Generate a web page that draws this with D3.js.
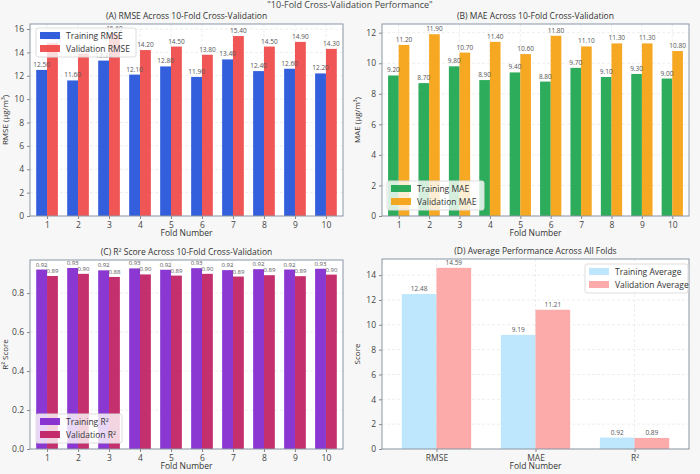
<!DOCTYPE html><html><head><meta charset="utf-8"><script src="https://cdn.jsdelivr.net/npm/d3@7"></script>
<style>body{margin:0;background:#f7f7f7}text{font-family:"Open Sans",sans-serif}</style></head><body><svg id="c" width="700" height="474"></svg>
<script>
const folds=[1,2,3,4,5,6,7,8,9,10];
const trainRMSE=[12.5,11.6,13.3,12.1,12.8,11.9,13.4,12.4,12.6,12.2];
const valRMSE=[14.8,13.9,15.6,14.2,14.5,13.8,15.4,14.5,14.9,14.3];
const trainMAE=[9.2,8.7,9.8,8.9,9.4,8.8,9.7,9.1,9.3,9.0];
const valMAE=[11.2,11.9,10.7,11.4,10.6,11.8,11.1,11.3,11.3,10.8];
const trainR2=[0.921,0.929,0.917,0.927,0.920,0.928,0.918,0.923,0.921,0.925];
const valR2=[0.888,0.899,0.883,0.896,0.890,0.899,0.885,0.892,0.887,0.895];
const avgCats=["RMSE","MAE","R²"];
const trainAvg=[12.48,9.19,0.92];
const valAvg=[14.59,11.21,0.89];
const svg=d3.select("#c");
svg.append("text").attr("x",350).attr("y",8).attr("text-anchor","middle").attr("font-size",9).attr("fill","#444").text('"10-Fold Cross-Validation Performance"');
function panel(o){
  const g=svg.append("g");
  g.append("rect").attr("x",o.x0).attr("y",o.y0).attr("width",o.x1-o.x0).attr("height",o.y1-o.y0).attr("fill","#fff");
  const n=o.cats.length;
  const x=d3.scaleLinear().domain([-0.55,n-0.45]).range([o.x0,o.x1]);
  const y=d3.scaleLinear().domain([0,o.ymax]).range([o.y1,o.y0]);
  const ticks=o.ticks;
  ticks.forEach(t=>{g.append("line").attr("x1",o.x0).attr("x2",o.x1).attr("y1",y(t)).attr("y2",y(t)).attr("stroke","#eee").attr("stroke-dasharray","3,2");});
  o.cats.forEach((c,i)=>{g.append("line").attr("x1",x(i)).attr("x2",x(i)).attr("y1",o.y0).attr("y2",o.y1).attr("stroke","#eee").attr("stroke-dasharray","3,2");});
  const bw=o.bw||0.35;
  const sets=[[o.a,o.ca,-1],[o.b,o.cb,0]];
  sets.forEach(([vals,col,off])=>{
    vals.forEach((v,i)=>{
      g.append("rect").attr("x",x(i+off*bw)).attr("y",y(v)).attr("width",x(bw)-x(0)).attr("height",y(0)-y(v)).attr("fill",col).attr("opacity",o.op||0.9);
    });
  });
  sets.forEach(([vals,col,off])=>{
    vals.forEach((v,i)=>{
      g.append("text").attr("x",x(i+off*bw+bw/2)).attr("y",y(v)-3).attr("text-anchor","middle").attr("font-size",o.lfs||6.5).attr("fill","#555").text(v.toFixed(2));
    });
  });
  const ya=g.append("g").attr("transform",`translate(${o.x0},0)`).call(d3.axisLeft(y).tickValues(ticks).tickFormat(o.fmt).tickSize(3));
  const xa=g.append("g").attr("transform",`translate(0,${o.y1})`).call(d3.axisBottom(x).tickValues(o.cats.map((c,i)=>i)).tickFormat(i=>o.cats[i]).tickSize(3));
  [ya,xa].forEach(a=>{a.select(".domain").remove();a.selectAll("line").attr("stroke","#888");a.selectAll("text").attr("font-size",8.5).attr("fill","#444").attr("font-family","Open Sans");});
  g.append("rect").attr("x",o.x0).attr("y",o.y0).attr("width",o.x1-o.x0).attr("height",o.y1-o.y0).attr("fill","none").attr("stroke","#8a96a3");
  g.append("text").attr("x",(o.x0+o.x1)/2).attr("y",o.y0-5).attr("text-anchor","middle").attr("font-size",8.5).attr("fill","#333").text(o.title);
  g.append("text").attr("x",(o.x0+o.x1)/2).attr("y",o.y1+20).attr("text-anchor","middle").attr("font-size",8.5).attr("fill","#333").text("Fold Number");
  g.append("text").attr("transform",`translate(${o.x0-22},${(o.y0+o.y1)/2}) rotate(-90)`).attr("text-anchor","middle").attr("font-size",8).attr("fill","#333").text(o.ylab);
  const L=o.leg;
  const lg=g.append("g");
  lg.append("rect").attr("x",L.x).attr("y",L.y).attr("width",L.w).attr("height",29).attr("rx",2).attr("fill","#fff").attr("fill-opacity",0.8).attr("stroke","#ddd");
  [[o.la,o.ca],[o.lb,o.cb]].forEach(([t,c],k)=>{
    lg.append("rect").attr("x",L.x+4).attr("y",L.y+4+k*13).attr("width",20).attr("height",7).attr("fill",c).attr("opacity",o.op||0.9);
    lg.append("text").attr("x",L.x+30).attr("y",L.y+11+k*13).attr("font-size",8.5).attr("fill","#333").text(t);
  });
}
panel({x0:30,x1:343,y0:24,y1:216,cats:folds,a:trainRMSE,b:valRMSE,ca:"#1d4ed8",cb:"#ef4444",ymax:16.43,ticks:d3.range(0,17,2),fmt:d3.format("d"),title:"(A) RMSE Across 10-Fold Cross-Validation",ylab:"RMSE (μg/m³)",la:"Training RMSE",lb:"Validation RMSE",leg:{x:36,y:28,w:100}});
panel({x0:382,x1:689,y0:24,y1:216,cats:folds,a:trainMAE,b:valMAE,ca:"#16a34a",cb:"#f59e0b",ymax:12.57,ticks:d3.range(0,13,2),fmt:d3.format("d"),title:"(B) MAE Across 10-Fold Cross-Validation",ylab:"MAE (μg/m³)",la:"Training MAE",lb:"Validation MAE",leg:{x:387,y:181,w:97}});
panel({x0:30,x1:343,y0:260,y1:449,cats:folds,a:trainR2,b:valR2,ca:"#7e22ce",cb:"#be185d",ymax:0.97,ticks:[0,0.2,0.4,0.6,0.8],fmt:d3.format(".1f"),lfs:6,title:"(C) R² Score Across 10-Fold Cross-Validation",ylab:"R² Score",la:"Training R²",lb:"Validation R²",leg:{x:36,y:414,w:86}});
panel({x0:382,x1:689,y0:259,y1:449,cats:avgCats,a:trainAvg,b:valAvg,ca:"#bae6fd",cb:"#fca5a5",op:0.95,ymax:15.3,ticks:d3.range(0,15,2),fmt:d3.format("d"),title:"(D) Average Performance Across All Folds",ylab:"Score",la:"Training Average",lb:"Validation Average",leg:{x:585,y:264,w:103}});
</script></body></html>
